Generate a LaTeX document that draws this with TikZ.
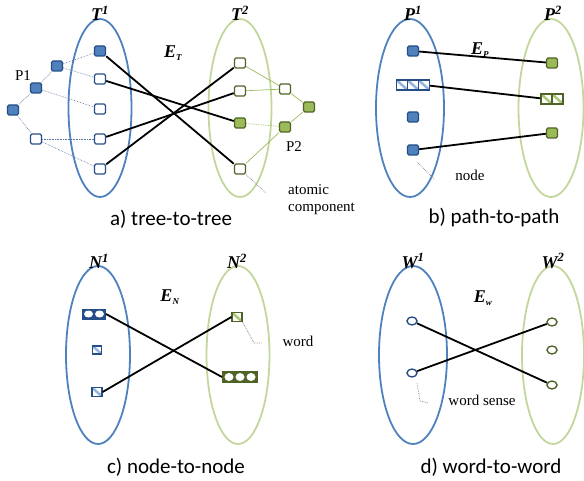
\documentclass[tikz,border=0pt]{standalone}
\usepackage{fontspec}
\setmainfont{Liberation Serif}
\newfontfamily\capfont{Carlito}
\usetikzlibrary{shapes.geometric}
\definecolor{eblue}{RGB}{79,129,189}
\definecolor{egreen}{RGB}{195,214,155}
\definecolor{dblue}{RGB}{37,78,136}
\definecolor{fblue}{RGB}{79,129,189}
\definecolor{dgreen}{RGB}{79,98,40}
\definecolor{fgreen}{RGB}{155,187,89}
\definecolor{hblue}{RGB}{150,180,220}
\definecolor{hgreen}{RGB}{170,200,120}
\tikzset{
  ellb/.style={ellipse, draw=eblue, line width=1.8pt, inner sep=0pt},
  ellg/.style={ellipse, draw=egreen, line width=1.8pt, inner sep=0pt},
  sqb/.style={rectangle, rounded corners=1.5pt, draw=dblue, fill=fblue, line width=1.4pt, minimum width=11pt, minimum height=10pt, inner sep=0pt},
  sqbw/.style={sqb, fill=white},
  sqg/.style={rectangle, rounded corners=1.5pt, draw=dgreen, fill=fgreen, line width=1.4pt, minimum width=11pt, minimum height=10pt, inner sep=0pt},
  sqgw/.style={sqg, fill=white},
  hatb/.style={rectangle, draw=dblue, fill=white, line width=1.2pt, minimum width=11pt, minimum height=10pt, inner sep=0pt,
    path picture={\draw[hblue, line width=2.5pt] (path picture bounding box.north west) -- (path picture bounding box.south east);}},
  hatg/.style={rectangle, draw=dgreen, fill=white, line width=1.2pt, minimum width=11pt, minimum height=10pt, inner sep=0pt,
    path picture={\draw[hgreen, line width=2.5pt] (path picture bounding box.north west) -- (path picture bounding box.south east);}},
  cirb/.style={ellipse, draw=dblue, fill=white, line width=1.4pt, minimum width=10pt, minimum height=8pt, inner sep=0pt},
  cirg/.style={ellipse, draw=dgreen, fill=white, line width=1.4pt, minimum width=10pt, minimum height=8pt, inner sep=0pt},
  conn/.style={black, line width=1.8pt},
  tb/.style={dblue!80, line width=0.6pt, densely dotted},
  tg/.style={fgreen, line width=0.7pt},
  ann/.style={gray, line width=0.7pt, densely dotted},
  lab/.style={font=\fontsize{18}{18}\selectfont\bfseries\itshape, inner sep=0pt},
  txt/.style={font=\fontsize{15}{17}\selectfont, inner sep=0pt, align=left},
  captxt/.style={font=\fontsize{21}{21}\capfont, inner sep=0pt}
}
\begin{document}
\begin{tikzpicture}[x=1pt,y=-1pt]
\useasboundingbox (0,0) rectangle (584,481);
% ---------- a) tree-to-tree
\node[ellb, minimum width=63pt, minimum height=178pt] (T1) at (100,108) {};
\node[ellg, minimum width=63pt, minimum height=178pt] (T2) at (240,108) {};
\node[lab] (T1l) at (100,13) {T\textsuperscript{1}};
\node[lab] (T2l) at (240,13) {T\textsuperscript{2}};
\node[lab] (ETl) at (173,53) {E\textsubscript{\fontsize{9}{9}\selectfont T}};
\node[sqb]  (a1) at (100,51) {};
\node[sqbw] (a2) at (100,79) {};
\node[sqbw] (a3) at (100,109) {};
\node[sqbw] (a4) at (100,139) {};
\node[sqbw] (a5) at (100,169) {};
\node[sqb]  (q1) at (57,66) {};
\node[sqb]  (q2) at (36,88) {};
\node[sqb]  (q3) at (13,110) {};
\node[sqbw] (q4) at (36,139) {};
\draw[tb] (q1) -- (a1); \draw[tb] (q1) -- (a2);
\draw[tb] (q2) -- (q1); \draw[tb] (q2) -- (a3);
\draw[tb] (q3) -- (q2); \draw[tb] (q3) -- (q4);
\draw[tb] (q4) -- (a4); \draw[tb] (q4) -- (a5);
\node[txt] (P1l) at (23,76) {P1};
\node[sqgw] (b1) at (240,63) {};
\node[sqgw] (b2) at (240,91) {};
\node[sqg]  (b3) at (240,123) {};
\node[sqgw] (b4) at (240,169) {};
\node[sqgw] (r1) at (285,89) {};
\node[sqg]  (r2) at (309,107) {};
\node[sqg]  (r3) at (285,127) {};
\draw[tg] (b1) -- (r1); \draw[tg] (b2) -- (r1);
\draw[tg] (r1) -- (r2); \draw[tg] (r2) -- (r3);
\draw[tg, densely dotted] (b3) -- (r3); \draw[tg] (r3) -- (b4);
\node[txt] (P2l) at (294,147) {P2};
\draw[conn] (a1) -- (b4);
\draw[conn] (a2) -- (b3);
\draw[conn] (a4) -- (b2);
\draw[conn] (a5) -- (b1);
\coordinate (atc) at (266,193);
\draw[ann] (b4.south east) -- (atc);
\node[txt, anchor=west] (atl) at (288,200) {atomic\\component};
\node[captxt] (capa) at (171,219) {a) tree-to-tree};
% ---------- b) path-to-path
\node[ellb, minimum width=68pt, minimum height=178pt] (P1) at (410,108) {};
\node[ellg, minimum width=65pt, minimum height=178pt] (P2) at (551,108) {};
\node[lab] (P1lab) at (413,13) {P\textsuperscript{1}};
\node[lab] (P2lab) at (553,13) {P\textsuperscript{2}};
\node[lab] (EPl) at (480,50) {E\textsubscript{\fontsize{9}{9}\selectfont P}};
\node[sqb] (c1) at (413,51) {};
\node[hatb] (h1) at (402,85) {};
\node[hatb] (h2) at (413,85) {};
\node[hatb] (h3) at (424,85) {};
\node[sqb] (c3) at (413,117) {};
\node[sqb] (c4) at (413,150) {};
\node[sqg] (d1) at (552,63) {};
\node[hatg] (k1) at (546.5,99) {};
\node[hatg] (k2) at (557.5,99) {};
\node[sqg] (d3) at (552,133) {};
\draw[conn] (c1) -- (d1);
\draw[conn] (h3) -- (k1);
\draw[conn] (c4) -- (d3);
\coordinate (ndc) at (435,180);
\coordinate (nds) at (417,162);
\draw[ann] (nds) -- (ndc);
\node[txt] (ndl) at (470,175) {node};
\node[captxt] (capb) at (494,218) {b) path-to-path};
% ---------- c) node-to-node
\node[ellb, minimum width=64pt, minimum height=178pt] (N1) at (98,355) {};
\node[ellg, minimum width=63pt, minimum height=178pt] (N2) at (238,355) {};
\node[lab] (N1l) at (99,261) {N\textsuperscript{1}};
\node[lab] (N2l) at (237,261) {N\textsuperscript{2}};
\node[lab] (ENl) at (170,297) {E\textsubscript{\fontsize{9}{9}\selectfont N}};
\node[rectangle, draw=dblue, fill=dblue, line width=1pt, minimum width=23pt, minimum height=10pt, inner sep=0pt] (m1) at (94,314) {};
\node[ellipse, fill=white, minimum width=9pt, minimum height=7pt, inner sep=0pt] (m1a) at (88.5,314) {};
\node[ellipse, fill=white, minimum width=9pt, minimum height=7pt, inner sep=0pt] (m1b) at (99.5,314) {};
\node[hatb, minimum width=9pt, minimum height=8pt] (m2) at (97,350) {};
\node[hatb, minimum width=10pt, minimum height=9pt] (m3) at (97,392) {};
\node[hatg, minimum width=10pt, minimum height=9pt] (n1) at (237,317) {};
\node[rectangle, draw=dgreen, fill=dgreen, line width=1pt, minimum width=35pt, minimum height=11pt, inner sep=0pt] (n2) at (240,377) {};
\node[ellipse, fill=white, minimum width=9pt, minimum height=8pt, inner sep=0pt] (n2a) at (229,377) {};
\node[ellipse, fill=white, minimum width=9pt, minimum height=8pt, inner sep=0pt] (n2b) at (240,377) {};
\node[ellipse, fill=white, minimum width=9pt, minimum height=8pt, inner sep=0pt] (n2c) at (251,377) {};
\draw[conn] (m1.east) -- (n2.west);
\draw[conn] (m3.east) -- (n1.west);
\coordinate (wdc) at (262,343);
\draw[ann] (n1.south east) -- (254,343) -- (wdc);
\node[txt] (wdl) at (298,341) {word};
\node[captxt] (capc) at (176,467) {c) node-to-node};
% ---------- d) word-to-word
\node[ellb, minimum width=68pt, minimum height=178pt] (W1) at (413,355) {};
\node[ellg, minimum width=62pt, minimum height=178pt] (W2) at (553,355) {};
\node[lab] (W1l) at (413,261) {W\textsuperscript{1}};
\node[lab] (W2l) at (553,261) {W\textsuperscript{2}};
\node[lab] (EWl) at (483,298) {E\textsubscript{\fontsize{9}{9}\selectfont w}};
\node[cirb] (w1) at (412,321) {};
\node[cirb] (w2) at (412,373) {};
\node[cirg] (v1) at (552,322) {};
\node[cirg] (v2) at (552,350) {};
\node[cirg] (v3) at (552,385) {};
\draw[conn] (w1) -- (v3);
\draw[conn] (w2) -- (v1);
\coordinate (wsc) at (428,403);
\coordinate (wss) at (417,383);
\draw[ann] (wss) -- (420,401) -- (wsc);
\node[txt] (wsl) at (482,400) {word sense};
\node[captxt] (capd) at (491,467) {d) word-to-word};
\end{tikzpicture}
\end{document}
